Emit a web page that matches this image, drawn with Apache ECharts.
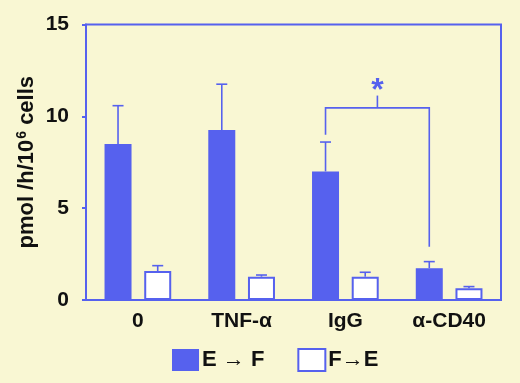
<!DOCTYPE html>
<html><head><meta charset="utf-8">
<script src="https://cdn.jsdelivr.net/npm/echarts@6/dist/echarts.min.js"></script>
<style>html,body{margin:0;padding:0;background:#F9F7D3;}#c{width:520px;height:383px;}</style>
</head><body><div id="c"></div>
<script>
var categories = ['0', 'TNF-\u03b1', 'IgG', '\u03b1-CD40'];
var efMean = [8.5, 9.25, 7.0, 1.73];
var efSD = [2.08, 2.5, 1.6, 0.36];
var feMean = [1.58, 1.27, 1.27, 0.64];
var feSD = [0.29, 0.09, 0.24, 0.09];
var yTicks = [0, 5, 10, 15];
var bracket = { from: 2, to: 3, leftLow: 9.0, top: 10.46, rightLow: 2.9, mark: 11.13, label: '*' };

var BLUE = '#5661EE';
var BW = 27, GAP = 0.47;
var OFF = (BW + BW * GAP) / 2;
var FONT = 'Liberation Sans, Arial, sans-serif';

function errData(mean, sd) {
  return mean.map(function (m, i) { return [i, m, m + sd[i]]; });
}
function errRender(offset) {
  return function (params, api) {
    var p1 = api.coord([api.value(0), api.value(1)]);
    var p2 = api.coord([api.value(0), api.value(2)]);
    var x = p1[0] + offset;
    var st = { stroke: BLUE, lineWidth: 1.6 };
    return { type: 'group', children: [
      { type: 'line', shape: { x1: x, y1: p1[1], x2: x, y2: p2[1] }, style: st },
      { type: 'line', shape: { x1: x - 5.5, y1: p2[1], x2: x + 5.5, y2: p2[1] }, style: st }
    ] };
  };
}

var chart = echarts.init(document.getElementById('c'));
chart.setOption({
  backgroundColor: '#F9F7D3',
  animation: false,
  grid: { left: 86, right: 19, top: 24.5, bottom: 83, show: true, borderColor: BLUE, borderWidth: 2, backgroundColor: 'transparent' },
  legend: {
    left: 172, top: 348, padding: 0, itemWidth: 27, itemHeight: 22, itemGap: 33,
    textStyle: { fontFamily: FONT, fontWeight: 'bold', fontSize: 22, color: '#111', padding: [0, 0, 0, -2] },
    data: [
      { name: 'E \u2192 F', icon: 'rect', itemStyle: { color: BLUE, borderWidth: 0 } },
      { name: 'F\u2192E', icon: 'rect', itemStyle: { color: '#fff', borderColor: BLUE, borderWidth: 2 } }
    ]
  },
  xAxis: {
    type: 'category', data: categories,
    axisLine: { lineStyle: { color: BLUE, width: 2 } },
    axisTick: { show: false },
    axisLabel: { fontFamily: FONT, fontWeight: 'bold', fontSize: 21, color: '#111', margin: 11 }
  },
  yAxis: {
    type: 'value', min: 0, max: 15, interval: 5,
    name: '{a|pmol /h/10}{s|6}{a| cells}', nameLocation: 'middle', nameGap: 47, nameRotate: 90,
    nameMoveOverlap: false,
    nameTextStyle: { rich: {
      a: { fontFamily: FONT, fontWeight: 'bold', fontSize: 22, color: '#111' },
      s: { fontFamily: FONT, fontWeight: 'bold', fontSize: 14, color: '#111', verticalAlign: 'top', padding: [0, 0, 10, 1] }
    } },
    axisLine: { show: true, lineStyle: { color: BLUE, width: 2 } },
    axisTick: { show: true, length: 4, lineStyle: { color: BLUE, width: 2 } },
    splitLine: { show: false },
    axisLabel: { fontFamily: FONT, fontWeight: 'bold', fontSize: 21, color: '#111', margin: 17,
      formatter: function (v) { return yTicks.indexOf(v) >= 0 ? String(v) : ''; } }
  },
  series: [
    { name: 'E \u2192 F', type: 'bar', data: efMean, barWidth: BW, barGap: (GAP * 100) + '%',
      itemStyle: { color: BLUE }, z: 2 },
    { name: 'F\u2192E', type: 'bar', data: feMean, barWidth: BW,
      itemStyle: { color: '#fff', borderColor: BLUE, borderWidth: 2 }, z: 2 },
    { type: 'custom', data: errData(efMean, efSD), renderItem: errRender(-OFF), z: 1, silent: true },
    { type: 'custom', data: errData(feMean, feSD), renderItem: errRender(OFF), z: 1, silent: true },
    { type: 'custom', data: [[bracket.from, bracket.to]], silent: true, z: 3,
      renderItem: function (params, api) {
        var l0 = api.coord([bracket.from, bracket.leftLow]);
        var lt = api.coord([bracket.from, bracket.top]);
        var r0 = api.coord([bracket.to, bracket.rightLow]);
        var xl = l0[0] - OFF, xr = r0[0] - OFF, xm = (xl + xr) / 2;
        var mk = api.coord([bracket.from, bracket.mark]);
        var st = { stroke: BLUE, lineWidth: 1.6, fill: null };
        return { type: 'group', children: [
          { type: 'polyline', shape: { points: [[xl, l0[1]], [xl, lt[1]], [xr, lt[1]], [xr, r0[1]]] }, style: st },
          { type: 'line', shape: { x1: xm, y1: lt[1], x2: xm, y2: mk[1] }, style: st },
          { type: 'text', x: xm, y: mk[1] + 12, style: { text: bracket.label, fill: BLUE, fontSize: 32, fontWeight: 'bold', fontFamily: FONT, align: 'center', verticalAlign: 'bottom' } }
        ] };
      }
    }
  ]
});
</script></body></html>
